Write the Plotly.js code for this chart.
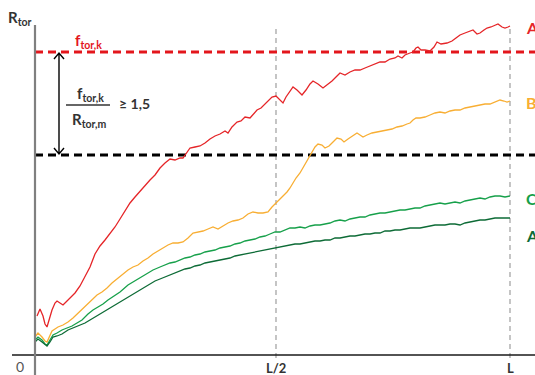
<!DOCTYPE html>
<html>
<head>
<meta charset="utf-8">
<script src="https://cdn.plot.ly/plotly-3.0.1.min.js"></script>
<style>html,body{margin:0;padding:0;background:#fff;}#chart{width:535px;height:375px;}</style>
</head>
<body>
<div id="chart"></div>
<script>
// Position along the member (L = 475 units) and torsional resistance (arbitrary units)
const L = 475;
const fTorK = 303;      // characteristic value f_tor,k
const rTorM = 200;      // mean value R_tor,m level

const redX = [2,5,8,10,12,14,17,20,22,25,28,31,35,40,45,50,55,60,65,70,75,80,85,90,95,100,105,110,115,120,125,130,135,140,145,148,152,155,160,165,170,175,180,185,190,193,197,202,206,210,215,219,222,226,230,233,237,241,245,248,251,255,258,262,267,271,275,278,283,288,292,297,301,305,310,315,320,325,330,335,340,345,350,355,360,363,367,370,375,378,381,383,386,390,395,399,402,406,412,417,421,425,430,435,438,442,445,449,452,456,460,463,467,470,473,475];
const redY = [39,46,39,31,28,35,45,52,54,52,50,53,57,62,69,78,88,101,109,115,121,128,136,144,152,158,164,170,175,180,187,192,196,195,197,197,203,207,208,209,212,216,219,221,224,222,228,233,234,238,237,242,245,247,251,255,258,259,255,252,258,264,268,265,260,265,271,274,271,267,270,274,278,282,280,283,285,285,287,289,291,293,293,296,297,299,297,300,302,303,307,308,305,305,304,308,313,311,312,314,317,320,322,324,325,321,322,325,327,328,330,331,328,327,328,329];

const orangeX = [0,3,7,10,12,15,17,20,23,28,33,38,43,48,53,58,62,67,72,77,83,88,93,98,103,108,113,118,123,128,133,138,143,148,153,158,163,168,173,178,183,188,193,198,203,208,213,218,223,228,233,237,241,245,248,252,255,258,261,265,268,271,274,277,280,283,287,290,294,298,302,306,309,313,317,322,325,328,332,337,342,347,352,357,362,367,372,375,378,381,385,390,395,400,405,410,415,420,425,430,435,440,445,450,455,460,465,469,472,475];
const orangeY = [18,22,18,14,13,19,24,26,28,30,33,37,42,47,52,57,60,63,67,72,77,81,85,88,90,94,97,101,104,107,110,112,112,113,117,122,123,124,126,128,126,129,132,134,135,137,141,143,142,142,143,148,152,155,159,163,167,172,177,182,187,192,197,202,208,211,210,207,209,213,217,216,213,216,219,222,220,218,220,222,223,224,225,226,228,229,231,232,235,237,237,238,240,242,243,242,244,245,245,247,248,249,250,251,251,253,255,254,253,254];

const greenCX = [0,3,7,10,12,15,18,22,27,32,37,42,47,53,58,63,68,73,80,85,93,100,107,113,118,125,130,135,140,145,150,155,160,165,170,175,180,185,190,195,200,205,210,215,220,225,230,235,240,245,250,255,260,265,270,275,280,285,290,295,300,305,310,315,320,325,330,335,340,345,350,355,360,365,370,375,380,385,390,395,400,405,410,415,420,425,430,435,440,445,450,455,460,465,470,475];
const greenCY = [15,18,15,11,10,15,20,22,25,27,29,32,35,41,45,48,51,55,60,63,70,74,78,82,85,88,90,92,93,95,97,98,100,101,103,104,105,107,108,109,111,112,114,115,116,118,119,121,123,123,125,127,127,128,127,129,130,130,131,132,134,135,134,136,137,138,138,140,141,142,142,143,144,145,145,146,147,147,149,150,151,152,151,152,153,152,154,155,156,157,156,158,159,159,158,159];

const greenAX = [0,3,7,10,12,15,18,22,27,33,40,45,50,55,60,65,70,75,80,85,90,95,100,105,110,115,120,125,130,135,140,145,150,155,160,165,170,175,180,185,190,195,200,205,210,215,220,225,230,235,240,245,250,255,260,265,270,275,280,285,290,295,300,305,310,315,320,325,330,335,340,345,350,355,360,365,370,375,380,385,390,395,400,405,410,415,420,425,430,435,440,445,450,455,460,465,470,475];
const greenAY = [13,16,13,10,9,13,18,19,21,25,28,30,32,35,38,41,44,47,50,53,56,59,62,65,68,71,74,76,78,80,82,84,86,87,89,90,92,93,94,95,96,97,99,100,101,102,103,104,105,106,107,108,109,110,111,111,112,113,114,114,115,115,117,117,118,119,119,120,121,121,122,122,124,124,125,125,126,127,127,127,128,129,130,130,130,131,131,130,132,133,134,135,135,136,137,137,137,137];

const seriesNames = ['A', 'B', 'C', 'A'];
const seriesColors = ['#e52528', '#f8ae33', '#16a04a', '#0d6b36'];
const labelY = [328, 253, 157, 120];
const tickVals = [L / 2 + 3.5, L];
const tickText = ['L/2', 'L'];

const traces = [
  {x: redX, y: redY},
  {x: orangeX, y: orangeY},
  {x: greenCX, y: greenCY},
  {x: greenAX, y: greenAY}
].map((d, i) => ({
  x: d.x, y: d.y, type: 'scatter', mode: 'lines', name: seriesNames[i],
  line: {color: seriesColors[i], width: 1.3}, hoverinfo: 'skip'
}));

const shapes = [
  ...tickVals.map(v => ({type: 'line', layer: 'below', x0: v, x1: v, y0: -3, y1: 330,
    line: {color: '#a6a6a6', width: 1.3, dash: '5px,4px'}})),
  {type: 'line', layer: 'below', x0: 0, x1: 500, y0: fTorK, y1: fTorK, line: {color: '#e3161c', width: 3, dash: '8px,5px'}},
  {type: 'line', layer: 'below', x0: 0, x1: 500, y0: rTorM, y1: rTorM, line: {color: '#000', width: 3, dash: '8px,5px'}},
  {type: 'line', x0: -23, x1: 500, y0: 0, y1: 0, line: {color: '#1a1a1a', width: 1.6}},
  {type: 'line', x0: 0, x1: 0, y0: -20, y1: 330, line: {color: '#808080', width: 2.2}},
  {type: 'path', path: `M 24 ${fTorK - 1} L 24 ${rTorM + 1} M 19 ${fTorK - 7} L 24 ${fTorK - 1} L 29 ${fTorK - 7} M 19 ${rTorM + 7} L 24 ${rTorM + 1} L 29 ${rTorM + 7}`,
    line: {color: '#000', width: 1.4}},
  {type: 'line', x0: 31, x1: 75, y0: 250, y1: 250, line: {color: '#333', width: 1.5}}
];

const F = 'Lato, "Open Sans", sans-serif';
const ann = (x, y, text, size, color, extra) => Object.assign({
  x, y, xref: 'x', yref: 'y', text, showarrow: false,
  font: {family: F, size, color}, xanchor: 'center', yanchor: 'middle'
}, extra || {});

const annotations = [
  ann(-15, 337, '<b>R<sub>tor</sub></b>', 15, '#333'),
  ann(-15, -11, '0', 14, '#555'),
  ...tickVals.map((v, i) => ann(v, -13, '<b>' + tickText[i] + '</b>', 13, '#333')),
  ann(53, 314, '<b>f<sub>tor,k</sub></b>', 15, '#e3161c'),
  ann(55, 261, '<b>f<sub>tor,k</sub></b>', 15, '#333'),
  ann(54, 235, '<b>R<sub>tor,m</sub></b>', 15, '#333'),
  ann(82, 252, '<b>≥ 1,5</b>', 14, '#333', {xanchor: 'left'}),
  ...seriesNames.map((n, i) => ann(489, labelY[i], '<b>' + n + '</b>', 16, seriesColors[i], {xanchor: 'left'}))
];

const layout = {
  width: 535, height: 375,
  margin: {l: 0, r: 0, t: 0, b: 0},
  paper_bgcolor: '#fff', plot_bgcolor: '#fff',
  showlegend: false,
  xaxis: {range: [-35, 500], visible: false, fixedrange: true},
  yaxis: {range: [-20, 355], visible: false, fixedrange: true},
  shapes, annotations
};

Plotly.newPlot('chart', traces, layout, {displayModeBar: false, staticPlot: true});
</script>
</body>
</html>
